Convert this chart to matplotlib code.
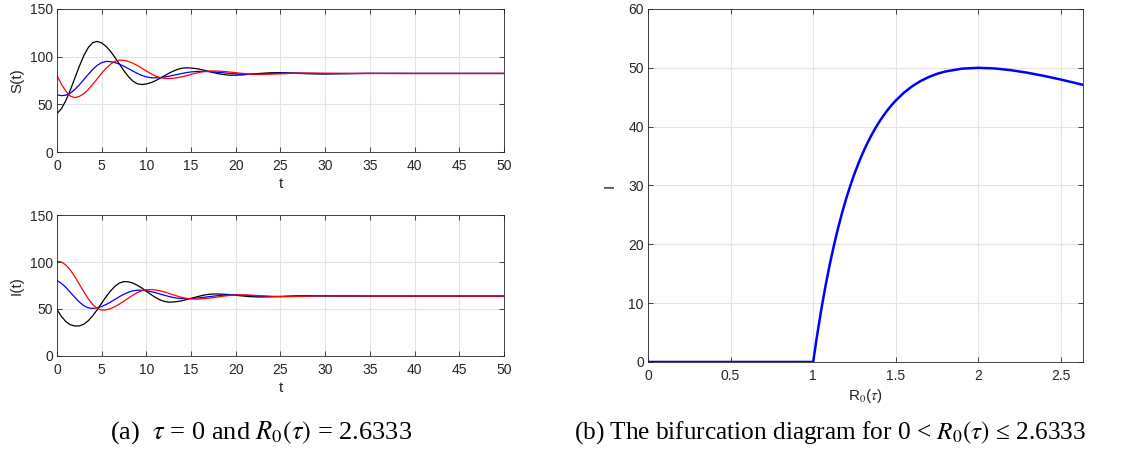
import matplotlib
matplotlib.use("Agg")
import matplotlib.pyplot as plt
import numpy as np

# sample times for the left panels
t = np.concatenate([np.arange(0, 25, 0.5), [25, 26, 27, 28, 29, 30, 35, 40, 45, 50]])

S_black = [40.3, 45.5, 54.1, 65.1, 77.5, 89.9, 101.0, 109.5, 114.7, 116.0,
           114.4, 110.8, 105.5, 99.0, 92.0, 85.1, 79.0, 74.3, 71.5, 70.8,
           71.4, 72.7, 74.7, 77.2, 79.8, 82.5, 84.8, 86.7, 87.9, 88.3,
           88.1, 87.6, 86.8, 85.7, 84.5, 83.3, 82.2, 81.4, 80.8, 80.5,
           80.6, 80.8, 81.1, 81.5, 81.9, 82.3, 82.6, 82.9, 83.1, 83.2,
           83.2, 82.9, 82.5, 82.1, 81.9, 81.8, 82.5, 82.4, 82.4, 82.4]
S_blue = [60.0, 59.1, 59.6, 61.8, 65.5, 70.4, 75.9, 81.5, 86.6, 90.9,
          93.7, 95.0, 94.8, 93.8, 92.1, 89.9, 87.4, 84.9, 82.4, 80.3,
          78.8, 77.9, 77.8, 78.1, 78.7, 79.4, 80.4, 81.4, 82.4, 83.3,
          84.0, 84.4, 84.6, 84.5, 84.3, 84.0, 83.6, 83.2, 82.7, 82.3,
          82.0, 81.7, 81.6, 81.6, 81.7, 81.8, 82.0, 82.1, 82.3, 82.5,
          82.6, 82.8, 82.8, 82.6, 82.4, 82.3, 82.4, 82.4, 82.4, 82.4]
S_red = [80.3, 71.0, 63.8, 58.6, 57.0, 58.3, 61.2, 65.5, 70.9, 76.7,
         82.6, 87.9, 92.2, 95.1, 96.4, 96.1, 95.0, 93.1, 90.7, 87.9,
         85.0, 82.2, 79.8, 78.1, 77.2, 77.0, 77.4, 78.0, 79.0, 80.1,
         81.4, 82.6, 83.6, 84.4, 84.9, 85.0, 84.9, 84.6, 84.2, 83.7,
         83.2, 82.7, 82.2, 81.8, 81.6, 81.5, 81.5, 81.6, 81.7, 81.9,
         82.0, 82.4, 82.7, 82.8, 82.7, 82.6, 82.4, 82.4, 82.4, 82.4]

I_black = [49.5, 42.0, 36.5, 33.2, 31.9, 32.0, 33.8, 37.5, 42.8, 49.2,
           56.2, 63.1, 69.3, 74.3, 77.7, 79.2, 78.9, 77.5, 75.2, 72.3,
           68.9, 65.5, 62.4, 59.8, 58.1, 57.3, 57.4, 58.0, 58.8, 60.0,
           61.3, 62.6, 63.8, 64.9, 65.6, 66.0, 66.0, 65.8, 65.5, 65.1,
           64.6, 64.1, 63.6, 63.2, 63.0, 62.8, 62.8, 62.9, 63.0, 63.2,
           63.3, 63.7, 64.0, 64.1, 64.0, 63.9, 63.7, 63.7, 63.7, 63.7]
I_blue = [80.3, 77.2, 72.9, 67.7, 62.4, 57.4, 53.6, 51.2, 50.6, 51.2,
          52.7, 54.8, 57.4, 60.3, 63.2, 65.8, 67.9, 69.4, 70.0, 69.9,
          69.4, 68.5, 67.4, 66.0, 64.7, 63.4, 62.3, 61.5, 61.1, 61.0,
          61.2, 61.5, 62.0, 62.5, 63.1, 63.7, 64.2, 64.6, 64.9, 65.0,
          65.0, 64.8, 64.6, 64.4, 64.1, 63.8, 63.6, 63.4, 63.3, 63.2,
          63.2, 63.4, 63.7, 63.9, 64.0, 64.0, 63.7, 63.7, 63.7, 63.7]
I_red = [100.8, 100.0, 96.8, 91.4, 84.4, 76.4, 68.3, 60.9, 54.8, 50.6,
         48.9, 49.1, 50.4, 52.5, 55.3, 58.4, 61.7, 64.8, 67.5, 69.4,
         70.5, 70.7, 70.2, 69.4, 68.2, 66.7, 65.1, 63.6, 62.3, 61.3,
         60.7, 60.5, 60.7, 61.0, 61.5, 62.1, 62.8, 63.5, 64.1, 64.6,
         64.9, 65.0, 64.9, 64.8, 64.6, 64.3, 64.0, 63.8, 63.5, 63.4,
         63.3, 63.2, 63.4, 63.6, 63.8, 63.9, 63.7, 63.7, 63.7, 63.7]

# bifurcation branch
R0 = [0, 1.0, 1.02, 1.05, 1.075, 1.1, 1.125, 1.15, 1.175, 1.2, 1.225, 1.25,
      1.275, 1.3, 1.325, 1.35, 1.375, 1.4, 1.425, 1.45, 1.475, 1.5, 1.55, 1.6,
      1.65, 1.7, 1.75, 1.8, 1.9, 2.0, 2.1, 2.2, 2.3, 2.4, 2.5, 2.6333]
I_eq = [0, 0, 3.84, 9.07, 12.98, 16.53, 19.75, 22.68, 25.35, 27.78, 29.99, 32.0,
        33.83, 35.50, 37.02, 38.41, 39.67, 40.82, 41.86, 42.81, 43.67, 44.44, 45.79, 46.88,
        47.75, 48.44, 48.98, 49.38, 49.86, 50.0, 49.89, 49.59, 49.15, 48.61, 48.0, 47.11]

plt.rcParams['font.family'] = ['Liberation Sans', 'DejaVu Sans']
plt.rcParams['mathtext.fontset'] = 'stix'

TXT = '#262626'


def style_axes(ax):
    ax.grid(True, color='#e3e3e3', linewidth=0.8)
    ax.set_axisbelow(True)
    ax.tick_params(direction='in', top=True, right=True, length=3.5, width=0.6,
                   labelsize=10, colors=TXT)
    ax.tick_params(axis='x', pad=5)
    ax.tick_params(axis='y', pad=3)
    for sp in ax.spines.values():
        sp.set_color(TXT)
        sp.set_linewidth(0.6)


fig = plt.figure(figsize=(11.37, 4.5), dpi=100)

ax1 = fig.add_axes([0.0501, 0.6622, 0.3931, 0.3178])
ax2 = fig.add_axes([0.0501, 0.2089, 0.3931, 0.3133])
ax3 = fig.add_axes([0.5699, 0.1956, 0.3826, 0.7844])

for ax, ys, lab in [(ax1, (S_black, S_blue, S_red), 'S(t)'),
                    (ax2, (I_black, I_blue, I_red), 'I(t)')]:
    ax.plot(t, ys[0], color='k', linewidth=0.9)
    ax.plot(t, ys[1], color='b', linewidth=0.9)
    ax.plot(t, ys[2], color='r', linewidth=0.9)
    ax.set_xlim(0, 50)
    ax.set_ylim(0, 150)
    ax.set_xticks(np.arange(0, 51, 5))
    ax.set_yticks([0, 50, 100, 150])
    ax.set_xlabel('t', fontsize=11, color=TXT, labelpad=3)
    ax.set_ylabel(lab, fontsize=11, color=TXT, labelpad=4)
    style_axes(ax)

ax3.plot(R0, I_eq, color='b', linewidth=1.8)
ax3.set_xlim(0, 2.6333)
ax3.set_ylim(0, 60)
ax3.set_xticks([0, 0.5, 1, 1.5, 2, 2.5])
ax3.set_xticklabels(['0', '0.5', '1', '1.5', '2', '2.5'])
ax3.set_yticks(np.arange(0, 61, 10))
ax3.set_xlabel(r'R$_0$($\tau$)', fontsize=11, color=TXT, labelpad=3)
ax3.set_ylabel('I', fontsize=11, color=TXT, labelpad=8)
style_axes(ax3)

cap_font = dict(family=['Liberation Serif', 'DejaVu Serif'], ha='center', va='center')
fig.text(0.2296, 0.038, r'(a)  $\tau$ = 0 and $R_0(\tau)$ = 2.6333', fontsize=19, **cap_font)
fig.text(0.730, 0.038, '(b) The bifurcation diagram for 0 < $R_0(\\tau)$ \u2264 2.6333',
         fontsize=18.2, **cap_font)

fig.savefig('out.png', dpi=100)
